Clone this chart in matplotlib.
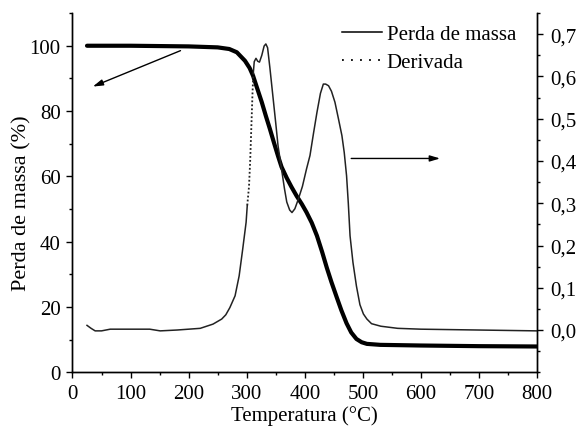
import matplotlib
matplotlib.use("Agg")
import matplotlib.pyplot as plt
from matplotlib.lines import Line2D
from matplotlib.ticker import MultipleLocator, FuncFormatter

plt.rcParams['font.family'] = ['Liberation Serif', 'DejaVu Serif']

# Mass loss (TG), left axis
mass_T = [25, 100, 200, 250, 270, 283, 297, 305, 311, 318, 326, 333, 340, 347, 354,
          360, 369, 377, 386, 395, 403, 412, 421, 430, 438, 446, 455, 463, 472, 480,
          489, 498, 507, 530, 600, 700, 800]
mass_v = [100.0, 100.0, 99.8, 99.5, 99.0, 98.0, 95.4, 93.2, 90.8, 87.0, 82.7, 78.5,
          74.5, 70.3, 66.2, 62.9, 59.5, 56.8, 54.0, 51.5, 49.0, 45.8, 41.8, 36.8, 32.0,
          27.6, 23.0, 19.0, 15.0, 12.2, 10.2, 9.2, 8.7, 8.4, 8.2, 8.0, 7.9]

# Derivative (DTG), right axis - solid part before the gap
der_T1 = [25, 32, 39, 50, 65, 100, 133, 151, 180, 220, 242, 257, 264, 271, 280, 287,
          293, 299, 301]
der_v1 = [0.011, 0.004, -0.002, -0.002, 0.002, 0.002, 0.002, -0.002, 0.0, 0.004, 0.014,
          0.026, 0.036, 0.053, 0.081, 0.128, 0.19, 0.255, 0.295]
# dotted segment
der_T2 = [301, 304, 306, 308, 310, 311.5]
der_v2 = [0.295, 0.34, 0.40, 0.48, 0.56, 0.61]
# solid part after
der_T3 = [311.5, 313, 316, 319, 322, 326, 330, 333, 336, 340, 345, 350, 354, 360, 365,
          369, 374, 378, 383, 389, 396, 403, 409, 415, 421, 427, 432, 436, 441, 446,
          452, 458, 464, 468, 472, 475, 478, 483, 489, 495, 501, 507, 515, 531, 560,
          600, 700, 800]
der_v3 = [0.61, 0.635, 0.643, 0.636, 0.634, 0.65, 0.672, 0.677, 0.668, 0.62, 0.555,
          0.49, 0.436, 0.381, 0.335, 0.303, 0.284, 0.278, 0.287, 0.31, 0.34, 0.381,
          0.413, 0.465, 0.515, 0.56, 0.582, 0.582, 0.578, 0.565, 0.539, 0.5, 0.46,
          0.42, 0.365, 0.3, 0.223, 0.16, 0.104, 0.06, 0.038, 0.026, 0.015, 0.009,
          0.004, 0.002, 0.0, -0.002]

x_ticks = [0, 100, 200, 300, 400, 500, 600, 700, 800]
left_ticks = [0, 20, 40, 60, 80, 100]
right_ticks = [0.0, 0.1, 0.2, 0.3, 0.4, 0.5, 0.6, 0.7]

fig = plt.figure(figsize=(5.79, 4.27), dpi=100)
ax = fig.add_axes([0.1252, 0.1258, 0.8023, 0.8412])
ax2 = ax.twinx()

ax.plot(mass_T, mass_v, color='black', lw=3.0, solid_capstyle='round',
        solid_joinstyle='round', zorder=3)
ax2.plot(der_T1, der_v1, color='#222222', lw=1.1)
ax2.plot(der_T2, der_v2, color='#222222', lw=1.3, linestyle=(0, (1, 1.2)))
ax2.plot(der_T3, der_v3, color='#222222', lw=1.1)

ax.set_xlim(0, 800)
ax.set_ylim(0, 110)
ax2.set_ylim(-0.1, 0.75)
ax.set_xticks(x_ticks)
ax.set_yticks(left_ticks)
ax2.set_yticks(right_ticks)
ax.xaxis.set_minor_locator(MultipleLocator(50))
ax.yaxis.set_minor_locator(MultipleLocator(10))
ax2.yaxis.set_minor_locator(MultipleLocator(0.05))
ax2.yaxis.set_major_formatter(FuncFormatter(lambda v, p: f"{v:.1f}".replace('.', ',')))

for a in (ax, ax2):
    a.spines['top'].set_visible(False)
    for s in a.spines.values():
        s.set_linewidth(1.0)
    a.tick_params(which='major', direction='out', length=4.5, width=1.0,
                  labelsize=15, pad=4)
    a.tick_params(which='minor', direction='out', length=2.5, width=1.0)
ax2.tick_params(axis='y', which='major', pad=5)

ax.set_xlabel('Temperatura (°C)', fontsize=15, labelpad=1.5)
ax.set_ylabel('Perda de massa (%)', fontsize=16)
ax.yaxis.set_label_coords(-0.088, 0.473)

# arrows
ax.annotate('', xy=(35, 87.5), xytext=(186, 98.5),
            arrowprops=dict(arrowstyle='-|>,head_length=0.6,head_width=0.18',
                            color='black', lw=1.0, mutation_scale=10,
                            shrinkA=0, shrinkB=0))
ax2.annotate('', xy=(633, 0.406), xytext=(480, 0.406),
             arrowprops=dict(arrowstyle='-|>,head_length=0.6,head_width=0.18',
                             color='black', lw=1.0, mutation_scale=10,
                             shrinkA=0, shrinkB=0))

handles = [Line2D([], [], color='black', lw=1.1),
           Line2D([], [], color='black', lw=1.3, linestyle=(0, (1, 4)))]
ax2.legend(handles, ['Perda de massa', 'Derivada'], loc='upper right',
           bbox_to_anchor=(0.955, 0.968), frameon=False, fontsize=15,
           handlelength=1.9, handletextpad=0.25, labelspacing=0.4,
           borderaxespad=0.0, borderpad=0.0)

fig.savefig('out.png', dpi=100)
